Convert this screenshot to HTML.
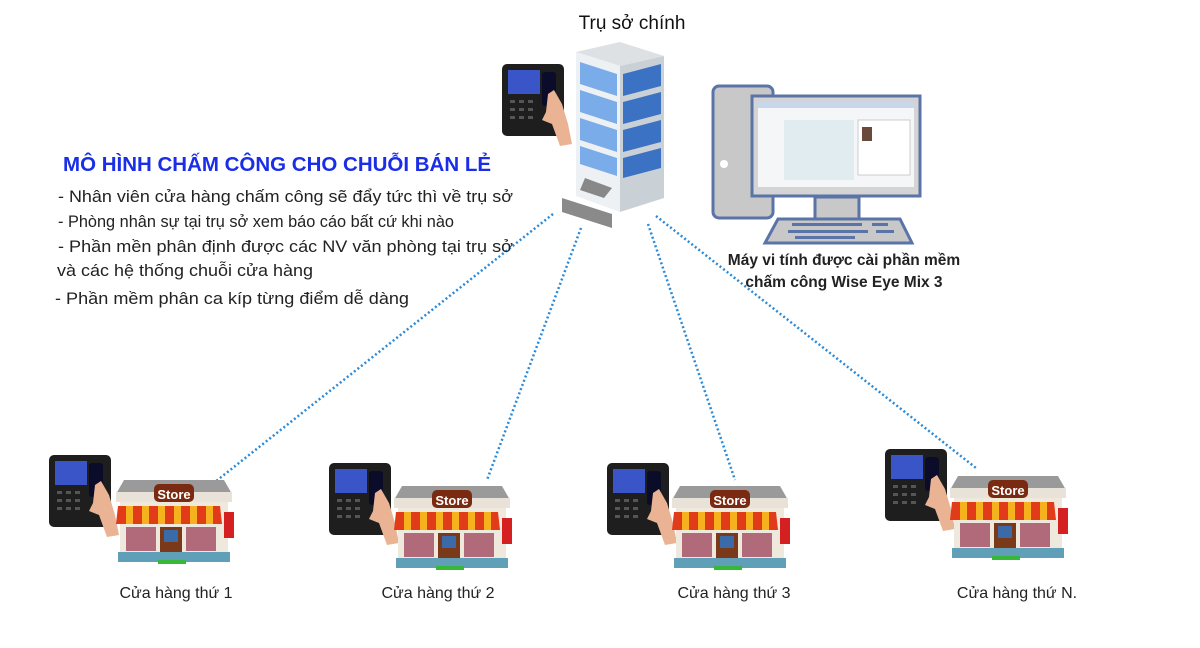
<!DOCTYPE html>
<html><head><meta charset="utf-8"><style>
html,body{margin:0;padding:0;background:#fff;}
svg{display:block;}
text{font-family:"Liberation Sans","DejaVu Sans",sans-serif;}
</style></head><body>
<svg width="1200" height="648" viewBox="0 0 1200 648" xmlns="http://www.w3.org/2000/svg">
<defs>
<g id="dev">
  <rect x="0" y="0" width="62" height="72" rx="5" fill="#1e1e1e"/>
  <rect x="6" y="6" width="32" height="24" fill="#3a55c8"/>
  <rect x="40" y="8" width="14" height="34" rx="3" fill="#0b0b2a"/>
  <g fill="#555"><rect x="8" y="36" width="5" height="3"/><rect x="17" y="36" width="5" height="3"/><rect x="26" y="36" width="5" height="3"/>
  <rect x="8" y="44" width="5" height="3"/><rect x="17" y="44" width="5" height="3"/><rect x="26" y="44" width="5" height="3"/>
  <rect x="8" y="52" width="5" height="3"/><rect x="17" y="52" width="5" height="3"/><rect x="26" y="52" width="5" height="3"/></g>
  <path d="M46 30 L52 26 L60 40 L66 60 L70 80 L58 82 L50 60 L40 56 L44 48 Z" fill="#eab394"/>
</g>
<g id="store">
  <path d="M8 8 L108 8 L116 22 L0 22 Z" fill="#9a9a9a"/>
  <rect x="0" y="20" width="116" height="10" fill="#e8e2d8"/>
  <rect x="38" y="12" width="40" height="18" rx="5" fill="#7a2a10"/>
  <text x="58" y="27" font-size="13" font-weight="bold" fill="#fff" text-anchor="middle">Store</text>
  <rect x="4" y="30" width="108" height="58" fill="#efe9dd"/>
  <path d="M2 34 L104 34 L106 52 L0 52 Z" fill="#e23b1a"/>
  <g fill="#f5b21c"><rect x="10" y="34" width="7" height="18"/><rect x="26" y="34" width="7" height="18"/><rect x="42" y="34" width="7" height="18"/><rect x="58" y="34" width="7" height="18"/><rect x="74" y="34" width="7" height="18"/><rect x="90" y="34" width="7" height="18"/></g>
  <rect x="10" y="55" width="30" height="24" fill="#b06a7a"/>
  <rect x="70" y="55" width="30" height="24" fill="#b06a7a"/>
  <rect x="44" y="55" width="22" height="34" fill="#7a3a1a"/>
  <rect x="48" y="58" width="14" height="12" fill="#3a6aa8"/>
  <rect x="2" y="80" width="112" height="10" fill="#5fa0b8"/>
  <rect x="42" y="88" width="28" height="4" fill="#38b838"/>
  <rect x="108" y="40" width="10" height="26" fill="#d42020"/>
</g>
</defs>

<g stroke="#2a8ad8" stroke-width="2.5" stroke-dasharray="2 2.5" fill="none">
  <line x1="553" y1="214" x2="215" y2="482"/>
  <line x1="581" y1="228" x2="487" y2="480"/>
  <line x1="648" y1="224" x2="735" y2="480"/>
  <line x1="656" y1="216" x2="976" y2="468"/>
</g>

<text x="632" y="29" font-size="19" fill="#111" text-anchor="middle">Trụ sở chính</text>

<!-- building -->
<path d="M562 198 L612 214 L612 228 L562 212 Z" fill="#8a8a8a"/>
<path d="M576 52 L620 42 L664 56 L620 66 Z" fill="#dde1e4"/>
<path d="M576 52 L620 66 L620 212 L576 196 Z" fill="#eef1f4"/>
<path d="M620 66 L664 56 L664 198 L620 212 Z" fill="#c9d0d6"/>
<g fill="#79ace8">
  <path d="M580 62 L617 74 L617 96 L580 84 Z"/><path d="M580 90 L617 102 L617 124 L580 112 Z"/>
  <path d="M580 118 L617 130 L617 152 L580 140 Z"/><path d="M580 146 L617 158 L617 176 L580 164 Z"/>
</g>
<g fill="#3c72c4">
  <path d="M623 74 L661 64 L661 86 L623 96 Z"/><path d="M623 102 L661 92 L661 114 L623 124 Z"/>
  <path d="M623 130 L661 120 L661 142 L623 152 Z"/><path d="M623 158 L661 148 L661 168 L623 178 Z"/>
</g>
<path d="M585 178 L612 188 L604 198 L580 190 Z" fill="#888"/>

<use href="#dev" x="502" y="64"/>

<!-- computer -->
<rect x="713" y="86" width="60" height="132" rx="6" fill="#c8c8c8" stroke="#5b74a8" stroke-width="3"/>
<circle cx="724" cy="164" r="4" fill="#fff"/>
<rect x="752" y="96" width="168" height="100" fill="#d4d4d4" stroke="#5b74a8" stroke-width="3"/>
<rect x="758" y="102" width="156" height="85" fill="#f4f6f8"/>
<rect x="758" y="102" width="156" height="6" fill="#c8d8ea"/>
<rect x="784" y="120" width="70" height="60" fill="#e0ecf0"/>
<rect x="858" y="120" width="52" height="55" fill="#fff" stroke="#ccc"/>
<rect x="862" y="127" width="10" height="14" fill="#6a4a3a"/>
<rect x="815" y="197" width="44" height="22" fill="#c8c8c8" stroke="#5b74a8" stroke-width="3"/>
<path d="M778 219 L900 219 L912 243 L765 243 Z" fill="#c8c8c8" stroke="#5b74a8" stroke-width="3"/>
<g fill="#5b74a8"><rect x="792" y="223" width="70" height="3"/><rect x="788" y="230" width="80" height="3"/><rect x="795" y="236" width="60" height="3"/><rect x="872" y="223" width="16" height="3"/><rect x="876" y="230" width="18" height="3"/></g>
<text x="844" y="265" font-size="15.5" fill="#222" text-anchor="middle" font-weight="bold">Máy vi tính được cài phần mềm</text>
<text x="844" y="287" font-size="15.5" fill="#222" text-anchor="middle" font-weight="bold">chấm công Wise Eye Mix 3</text>

<text x="63" y="171" font-size="20" font-weight="bold" fill="#1a2ee8" textLength="428" lengthAdjust="spacingAndGlyphs">MÔ HÌNH CHẤM CÔNG CHO CHUỖI BÁN LẺ</text>
<g font-size="16.5" fill="#222">
<text x="58" y="202" textLength="455" lengthAdjust="spacingAndGlyphs">- Nhân viên cửa hàng chấm công sẽ đẩy tức thì về trụ sở</text>
<text x="58" y="227" textLength="396" lengthAdjust="spacingAndGlyphs">- Phòng nhân sự tại trụ sở xem báo cáo bất cứ khi nào</text>
<text x="58" y="252" textLength="455" lengthAdjust="spacingAndGlyphs">- Phần mền phân định được các NV văn phòng tại trụ sở</text>
<text x="57" y="276" textLength="256" lengthAdjust="spacingAndGlyphs">và các hệ thống chuỗi cửa hàng</text>
<text x="55" y="304" textLength="354" lengthAdjust="spacingAndGlyphs">- Phần mềm phân ca kíp từng điểm dễ dàng</text>
</g>

<use href="#dev" x="49" y="455"/><use href="#store" x="116" y="472"/>
<use href="#dev" x="329" y="463"/><use href="#store" x="394" y="478"/>
<use href="#dev" x="607" y="463"/><use href="#store" x="672" y="478"/>
<use href="#dev" x="885" y="449"/><use href="#store" x="950" y="468"/>

<g font-size="16" fill="#222" text-anchor="middle">
<text x="176" y="598">Cửa hàng thứ 1</text>
<text x="438" y="598">Cửa hàng thứ 2</text>
<text x="734" y="598">Cửa hàng thứ 3</text>
<text x="1017" y="598">Cửa hàng thứ N.</text>
</g>
</svg>
</body></html>
